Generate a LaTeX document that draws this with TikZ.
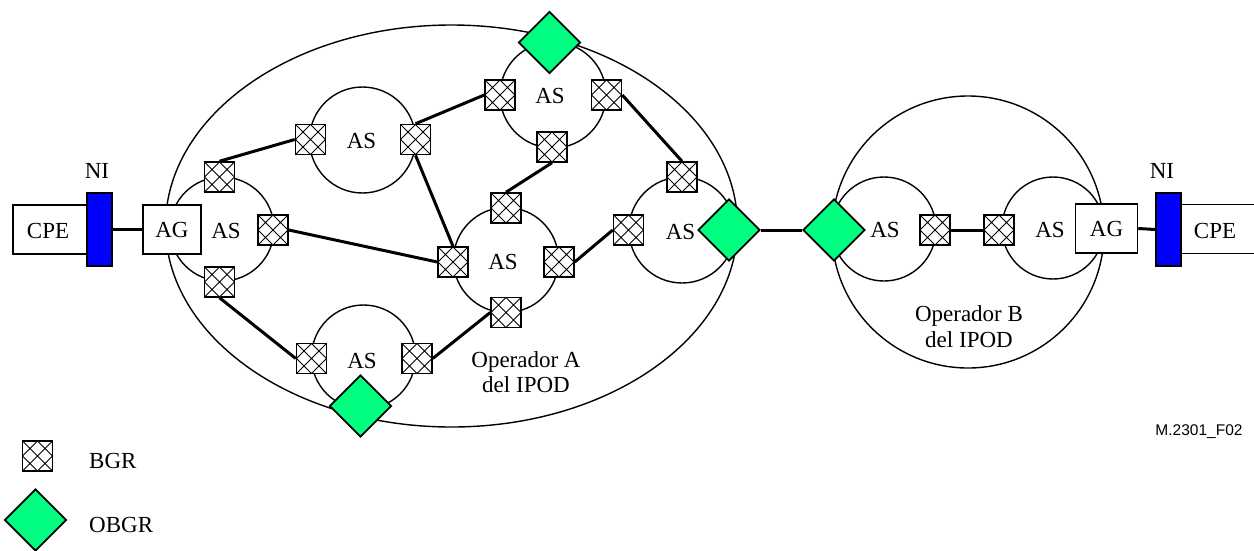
\documentclass[tikz,border=0pt]{standalone}
\usepackage{fontspec}
\setmainfont{Liberation Serif}
\newfontfamily\tagsans{Liberation Sans}
\usetikzlibrary{shapes.geometric}
\definecolor{obgrgreen}{RGB}{0,255,128}
\definecolor{niblue}{RGB}{0,0,255}
\tikzset{
  asring/.style={circle, draw, line width=1.4pt, inner sep=0pt},
  link/.style={line width=3pt},
  bgr/.style={draw, line width=1.5pt, fill=white, minimum size=30pt, inner sep=0pt,
    path picture={
      \draw[line width=0.9pt]
        (path picture bounding box.north west) -- (path picture bounding box.south east)
        (path picture bounding box.south west) -- (path picture bounding box.north east)
        (path picture bounding box.north) -- (path picture bounding box.east)
        -- (path picture bounding box.south) -- (path picture bounding box.west) -- cycle;}},
  obgr/.style={diamond, aspect=1, draw, line width=1.7pt, fill=obgrgreen,
    minimum width=62pt, minimum height=62pt, inner sep=0pt},
  box/.style={draw, fill=white, line width=1.5pt, inner sep=0pt, minimum height=49pt},
  nibar/.style={draw, fill=niblue, line width=1.4pt, inner sep=0pt,
    minimum width=25pt, minimum height=73pt},
  txt/.style={inner sep=0pt}
}
\begin{document}
\begin{tikzpicture}[x=1pt, y=-1pt, font=\fontsize{23}{26}\selectfont]
\useasboundingbox (0,0) rectangle (1254,550);

% operator domains
\node[ellipse, draw, line width=1.4pt, inner sep=0pt,
      minimum width=572pt, minimum height=402pt] (opA) at (451.5,226) {};
\node[asring, minimum size=272pt] (opB) at (968,232) {};

% autonomous systems
\node[asring, minimum size=104pt] (as1) at (222,229) {};
\node[asring, minimum size=106pt] (as2) at (362.5,140) {};
\node[asring, minimum size=106pt] (as3) at (553,95) {};
\node[asring, minimum size=105pt] (as4) at (506,260) {};
\node[asring, minimum size=106pt] (as5) at (682,230) {};
\node[asring, minimum size=104pt] (as6) at (363.5,357) {};
\node[asring, minimum size=104pt] (asb1) at (884,229) {};
\node[asring, minimum size=102pt] (asb2) at (1053,228) {};

% border gateway routers
\node[bgr] (t1) at (219.5,177) {};
\node[bgr] (r1) at (273,230) {};
\node[bgr] (b1) at (219.5,282) {};
\node[bgr] (l2) at (310.5,139.5) {};
\node[bgr] (r2) at (415.5,139.5) {};
\node[bgr] (l3) at (500,95) {};
\node[bgr] (r3) at (606.5,95) {};
\node[bgr] (b3) at (552,147) {};
\node[bgr] (t4) at (506,208) {};
\node[bgr] (l4) at (453,262) {};
\node[bgr] (r4) at (559,262) {};
\node[bgr] (b4) at (506,312.5) {};
\node[bgr] (t5) at (682,177) {};
\node[bgr] (l5) at (628.5,230) {};
\node[bgr] (l6) at (311.5,358.5) {};
\node[bgr] (r6) at (417,358.5) {};
\node[bgr] (rb1) at (935,230) {};
\node[bgr] (lb2) at (999,230) {};

% inter-AS links
\draw[link] (t1.north) -- (l2.west);
\draw[link] (r2.north) -- (l3.west);
\draw[link] (r2.south) -- (l4.north);
\draw[link] (b3.south) -- (t4.north);
\draw[link] (r3.east) -- (t5.north);
\draw[link] (r1.east) -- (l4.west);
\draw[link] (r4.east) -- (l5.west);
\draw[link] (b1.south) -- (l6.west);
\draw[link] (r6.east) -- (b4.west);
\draw[link] (rb1.east) -- (lb2.west);

% operator border gateway routers
\node[obgr] (d3) at (549.5,42.5) {};
\node[obgr] (d6) at (360.5,406) {};
\node[obgr] (d5) at (729,230) {};
\node[obgr] (db) at (834,230) {};
\draw[link] (d5.east) -- (db.west);

% customer side, operator A
\node[box, minimum width=87pt] (cpeA) at (56.5,229.5) {};
\node[txt] (cpeAtxt) at (48,231) {CPE};
\node[nibar] (niA) at (99.5,229.5) {};
\node[txt] (niAtxt) at (97,170.5) {NI};
\node[box, minimum width=58pt] (agA) at (172,229.5) {AG};
\draw[link] (niA.east) -- (agA.west);

% customer side, operator B
\coordinate (cpeBtop) at (1262,204.5);
\coordinate (cpeBbot) at (1262,253.5);
\draw[line width=1.5pt] (cpeBtop) -- (1181,204.5) -- (1181,253.5) -- (cpeBbot);
\node[txt] (cpeBtxt) at (1215,231) {CPE};
\node[nibar] (niB) at (1168.5,229.5) {};
\node[txt] (niBtxt) at (1162,170.5) {NI};
\node[box, minimum width=62pt] (agB) at (1106.5,228.5) {AG};
\draw[link] (agB.east) -- (niB.west);

% AS labels
\node[txt] (as1txt) at (226,231) {AS};
\node[txt] (as2txt) at (361.5,141) {AS};
\node[txt] (as3txt) at (550,96) {AS};
\node[txt] (as4txt) at (503,262) {AS};
\node[txt] (as5txt) at (680.5,232) {AS};
\node[txt] (as6txt) at (362,361) {AS};
\node[txt] (asb1txt) at (885,230) {AS};
\node[txt] (asb2txt) at (1050,230) {AS};

% operator labels
\node[txt, anchor=base] (opAtxt1) at (526,367) {Operador A};
\node[txt, anchor=base] (opAtxt2) at (526,392) {del IPOD};
\node[txt, anchor=base] (opBtxt1) at (969,321) {Operador B};
\node[txt, anchor=base] (opBtxt2) at (969,347) {del IPOD};

% figure tag
\node[txt, font=\tagsans\fontsize{15.5}{18}\selectfont] (tag) at (1199,432) {M.2301\_F02};

% legend
\node[bgr] (legbgr) at (37.5,456) {};
\node[txt, anchor=base west] (legbgrtxt) at (89,468) {BGR};
\node[obgr] (legobgr) at (35.5,520) {};
\node[txt, anchor=base west] (legobgrtxt) at (89,532) {OBGR};
\end{tikzpicture}
\end{document}
